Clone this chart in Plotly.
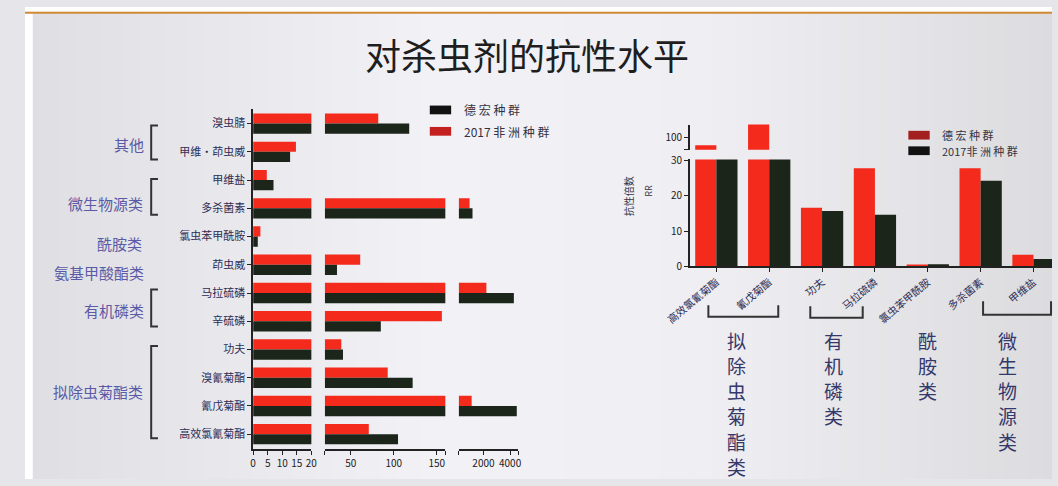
import plotly.graph_objects as go

# ---- data -------------------------------------------------------------
lc_categories = ["溴虫腈", "甲维·茚虫威", "甲维盐", "多杀菌素", "氯虫苯甲酰胺", "茚虫威",
                 "马拉硫磷", "辛硫磷", "功夫", "溴氰菊酯", "氰戊菊酯", "高效氯氰菊酯"]
lc_africa_2017 = [82, 14.7, 4.7, 960, 2.5, 61, 2220, 156, 39, 93, 1116, 71]     # red bars
lc_dehong = [118, 12.7, 7.0, 1180, 1.6, 34, 4280, 85, 41, 122, 4500, 105]      # dark bars

seg1_ticks = [0, 5, 10, 15, 20]
seg2_ticks = [20, 50, 100, 150, 160]
seg2_text = ["", "50", "100", "150", ""]
seg3_ticks = [160, 2000, 4000, 4600]
seg3_text = ["", "2000", "4000", ""]

rr_categories = ["高效氯氰菊酯", "氰戊菊酯", "功夫", "马拉硫磷", "氯虫苯甲酰胺", "多杀菌素", "甲维盐"]
rr_dehong = [68, 200, 16.6, 27.8, 0.5, 27.8, 3.3]       # red bars
rr_africa_2017 = [40, 42, 15.7, 14.6, 0.6, 24.3, 2.1]   # dark bars
rr_low_ticks = [0, 10, 20, 30]
rr_high_ticks = [50, 100]
rr_high_text = ["", "100"]

# ---- styling ----------------------------------------------------------
W, H = 1058, 486
RED = "#f42a1c"
DARK = "#1b251a"
FONT = "Noto Sans CJK SC"
AXC = "#222222"


def px(x):
    return x / W


def py(y):
    return 1 - y / H


fig = go.Figure()

# left chart: the same bars drawn on three broken x segments
for xa, ya in [("x", "y"), ("x2", "y2"), ("x3", "y3")]:
    fig.add_trace(go.Bar(y=lc_categories, x=lc_africa_2017, orientation="h", xaxis=xa, yaxis=ya,
                         marker=dict(color=RED, line_width=0), width=0.36, offset=-0.36,
                         showlegend=False))
    fig.add_trace(go.Bar(y=lc_categories, x=lc_dehong, orientation="h", xaxis=xa, yaxis=ya,
                         marker=dict(color=DARK, line_width=0), width=0.36, offset=0,
                         showlegend=False))

# right chart: broken y axis (lower 0-30, upper 50-150)
for xa, ya in [("x4", "y4"), ("x5", "y5")]:
    fig.add_trace(go.Bar(x=rr_categories, y=rr_dehong, xaxis=xa, yaxis=ya,
                         marker=dict(color=RED, line_width=0), width=0.4, offset=-0.4,
                         showlegend=False))
    fig.add_trace(go.Bar(x=rr_categories, y=rr_africa_2017, xaxis=xa, yaxis=ya,
                         marker=dict(color=DARK, line_width=0), width=0.4, offset=0,
                         showlegend=False))

common_x = dict(showline=True, linecolor=AXC, linewidth=1.5, ticks="outside", ticklen=4,
                tickcolor=AXC, tickwidth=1.2, showgrid=False, zeroline=False,
                tickfont=dict(size=10, color=AXC, family=FONT))
hidden_y = dict(type="category", categoryarray=lc_categories, matches="y", visible=False,
                domain=[py(455), py(105.5)])

fig.update_layout(
    width=W, height=H,
    margin=dict(l=0, r=0, t=0, b=0),
    paper_bgcolor="#e6e5ea",
    plot_bgcolor="rgba(0,0,0,0)",
    font=dict(family=FONT, color=AXC),
    barmode="overlay",
    xaxis=dict(common_x, domain=[px(235), px(295)], range=[0, 20], anchor="y",
               tickvals=seg1_ticks),
    xaxis2=dict(common_x, domain=[px(309), px(433)], range=[20, 160], anchor="y2",
                tickvals=seg2_ticks, ticktext=seg2_text),
    xaxis3=dict(common_x, domain=[px(447), px(508)], range=[160, 4600], anchor="y3",
                tickvals=seg3_ticks, ticktext=seg3_text),
    yaxis=dict(type="category", categoryarray=lc_categories, range=[11.52, -0.5],
               domain=[py(455), py(105.5)], anchor="x", showline=True, linecolor=AXC,
               linewidth=1.5, ticks="outside", ticklen=4, tickcolor=AXC, showgrid=False,
               tickfont=dict(size=11, color="#2d2d55", family=FONT)),
    yaxis2=dict(hidden_y, anchor="x2"),
    yaxis3=dict(hidden_y, anchor="x3"),
    xaxis4=dict(common_x, type="category", categoryarray=rr_categories, range=[-0.5, 6.35],
                domain=[px(685), 1.0], anchor="y4", tickangle=-40,
                tickfont=dict(size=10.5, color="#2d2d55", family=FONT)),
    yaxis4=dict(common_x, domain=[py(267), py(157)], range=[0, 30.3], anchor="x4",
                tickvals=rr_low_ticks, tickfont=dict(size=10, color=AXC, family=FONT)),
    xaxis5=dict(domain=[px(685), 1.0], matches="x4", anchor="y5", visible=False,
                type="category", categoryarray=rr_categories),
    yaxis5=dict(common_x, domain=[py(147), py(121)], range=[50, 150], anchor="x5",
                tickvals=rr_high_ticks, ticktext=rr_high_text,
                tickfont=dict(size=10, color=AXC, family=FONT)),
)

shapes = []
annotations = []


def note(text, x, y, size, color, **kw):
    opts = dict(xanchor="center", yanchor="middle")
    opts.update(kw)
    annotations.append(dict(text=text, xref="paper", yref="paper", x=px(x), y=py(y),
                            showarrow=False, font=dict(size=size, color=color), **opts))


def mix(c0, c1, t):
    a = [int(c0[i:i + 2], 16) for i in (1, 3, 5)]
    b = [int(c1[i:i + 2], 16) for i in (1, 3, 5)]
    return "#" + "".join(f"{round(u + (v - u) * t):02x}" for u, v in zip(a, b))


# soft horizontal shading of the slide background, built from thin strips
stops = [(0, "#dfdfe3"), (420, "#f2f1f5"), (700, "#efeef2"), (1058, "#dcdcdf")]
step = 6
for x0 in range(0, W, step):
    xc = x0 + step / 2
    for (xa, ca), (xb, cb) in zip(stops[:-1], stops[1:]):
        if xa <= xc <= xb:
            col = mix(ca, cb, (xc - xa) / (xb - xa))
            break
    shapes.append(dict(type="rect", xref="paper", yref="paper", x0=px(x0),
                       x1=px(min(x0 + step + 1, W)), y0=0, y1=1, fillcolor=col,
                       line_width=0, layer="below"))

# slide frame: white margin strips and the orange rule at the top
shapes.append(dict(type="rect", xref="paper", yref="paper", x0=0, x1=1, y0=py(5), y1=1,
                   fillcolor="white", line_width=0, layer="below"))
shapes.append(dict(type="rect", xref="paper", yref="paper", x0=0, x1=px(8), y0=0, y1=py(5),
                   fillcolor="white", line_width=0, layer="below"))
shapes.append(dict(type="line", xref="paper", yref="paper", x0=0, x1=1, y0=py(6), y1=py(6),
                   line=dict(color="#d08a35", width=2)))

# title
note("对杀虫剂的抗性水平", 517, 48, 36, "#1e1e1e")


def legend_entry(x, y, color, label, size):
    shapes.append(dict(type="rect", xref="paper", yref="paper", x0=px(x), x1=px(x + 22),
                       y0=py(y + 4.5), y1=py(y - 4.5), fillcolor=color, line_width=0))
    note(label, x + 33, y, size, "#333344", xanchor="left")


legend_entry(417, 106, "#111111", "德 宏 种 群", 12)
legend_entry(417, 128, "#c42020", "2017 非 洲 种 群", 12)
legend_entry(910, 132, "#a32020", "德 宏 种 群", 11)
legend_entry(910, 148, "#111111", "2017非 洲 种 群", 11)

# left chart: class labels with brackets
left_groups = [("其他", 107, 142), ("微生物源类", 83, 202), ("酰胺类", 97, 244),
               ("氨基甲酸酯类", 76, 273), ("有机磷类", 92, 312), ("拟除虫菊酯类", 75, 396)]
for label, cx, cy in left_groups:
    note(label, cx, cy, 15, "#5a5aa6")
for y0, y1 in [(122, 157), (177, 214), (291, 329), (349, 444)]:
    shapes.append(dict(type="path", xref="paper", yref="paper",
                       path=f"M {px(137)},{py(y0)} L {px(130)},{py(y0)} "
                            f"L {px(130)},{py(y1)} L {px(137)},{py(y1)}",
                       line=dict(color="#333333", width=2)))

# right chart: axis title and class labels below the categories
note("抗性倍数", 622, 195, 10, "#333344", textangle=-90)
note("RR", 642, 189, 9, "#333344", textangle=-90)
for x0, x1, yt, yb in [(704, 776, 307, 319), (809, 863, 308, 320), (987, 1057, 303, 317)]:
    shapes.append(dict(type="path", xref="paper", yref="paper",
                       path=f"M {px(x0)},{py(yt)} L {px(x0)},{py(yb)} "
                            f"L {px(x1)},{py(yb)} L {px(x1)},{py(yt)}",
                       line=dict(color="#333333", width=2)))

# vertical class names, one character per row
right_groups = [("拟除虫菊酯类", 733), ("有机磷类", 833), ("酰胺类", 930), ("微生物源类", 1012)]
for label, cx in right_groups:
    for i, ch in enumerate(label):
        note(ch, cx, 343 + 26 * i, 19, "#35386a")

fig.update_layout(shapes=shapes, annotations=annotations)
fig.write_html("out.html")
